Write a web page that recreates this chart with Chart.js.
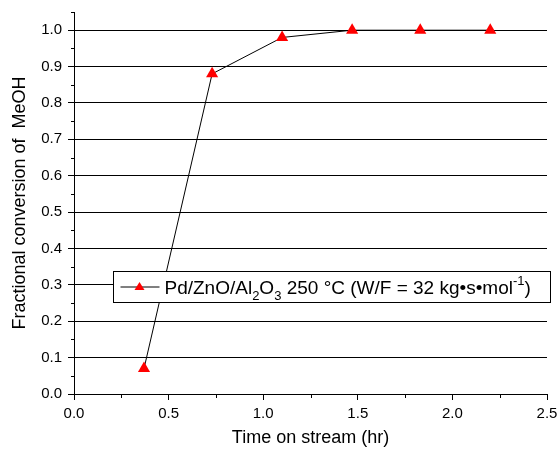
<!DOCTYPE html>
<html>
<head>
<meta charset="utf-8">
<script src="https://cdn.jsdelivr.net/npm/chart.js@4"></script>
<style>
  html, body { margin: 0; padding: 0; background: #fff; }
  #wrap { width: 558px; height: 450px; }
</style>
</head>
<body>
<div id="wrap"><canvas id="grafico"></canvas></div>
<script>
// datos
const tiempos = [0.37, 0.73, 1.10, 1.47, 1.83, 2.20];
const conversion = [0.07, 0.88, 0.98, 1.0, 1.0, 1.0];
const yMayores = [0, 0.1, 0.2, 0.3, 0.4, 0.5, 0.6, 0.7, 0.8, 0.9, 1.0];
const xMayores = [0, 0.5, 1.0, 1.5, 2.0, 2.5];

const fuente = "'Liberation Sans', Arial, sans-serif";

// ticks menores y leyenda dibujados a mano
const extras = {
    id: 'extras',
    afterDraw(chart) {
        const ctx = chart.ctx;
        const xs = chart.scales.x, ys = chart.scales.y;
        const area = chart.chartArea;
        ctx.save();
        ctx.strokeStyle = '#000';
        ctx.lineWidth = 1;
        ctx.beginPath();
        for (let v = 0.05; v < 1.05; v += 0.1) {
            const py = Math.round(ys.getPixelForValue(v)) + 0.5;
            ctx.moveTo(area.left - 3, py);
            ctx.lineTo(area.left, py);
        }
        for (let v = 0.25; v < 2.5; v += 0.5) {
            const px = Math.round(xs.getPixelForValue(v)) + 0.5;
            ctx.moveTo(px, area.bottom);
            ctx.lineTo(px, area.bottom + 4);
        }
        ctx.stroke();

        // caja de la leyenda
        const bx = area.left + 39.5, by = 271.5, bw = 437, bh = 31;
        ctx.fillStyle = '#fff';
        ctx.fillRect(bx, by, bw, bh);
        ctx.strokeRect(bx, by, bw, bh);
        const cy = by + bh / 2;
        ctx.beginPath();
        ctx.moveTo(bx + 7, cy);
        ctx.lineTo(bx + 46, cy);
        ctx.stroke();
        ctx.fillStyle = '#ff0000';
        ctx.beginPath();
        ctx.moveTo(bx + 26, cy - 5);
        ctx.lineTo(bx + 31, cy + 3);
        ctx.lineTo(bx + 21, cy + 3);
        ctx.closePath();
        ctx.fill();

        ctx.fillStyle = '#000';
        ctx.textBaseline = 'alphabetic';
        const base = cy + 7;
        let x = bx + 51;
        const partes = [
            ['Pd/ZnO/Al', 0, 19],
            ['2', 6, 13],
            ['O', 0, 19],
            ['3', 6, 13],
            [' 250 \u00B0C (W/F = 32 kg\u2022s\u2022mol', 0, 19],
            ['-1', -9, 13],
            [')', 0, 19]
        ];
        partes.forEach(p => {
            ctx.font = p[2] + 'px ' + fuente;
            ctx.fillText(p[0], x, base + p[1]);
            x += ctx.measureText(p[0]).width;
        });
        ctx.restore();
    }
};

const ctx = document.getElementById('grafico').getContext('2d');
new Chart(ctx, {
    type: 'scatter',
    data: {
        datasets: [{
            label: 'Pd/ZnO/Al2O3 250 °C',
            data: tiempos.map((t, i) => ({ x: t, y: conversion[i] })),
            showLine: true,
            borderColor: '#000',
            borderWidth: 1,
            pointStyle: 'triangle',
            pointRadius: 7,
            pointBackgroundColor: '#ff0000',
            pointBorderColor: '#ff0000',
            pointBorderWidth: 0,
            tension: 0
        }]
    },
    options: {
        responsive: true,
        maintainAspectRatio: false,
        animation: false,
        layout: { padding: { left: 0, top: 12, right: 11, bottom: 1 } },
        plugins: {
            legend: { display: false },
            tooltip: { enabled: false }
        },
        scales: {
            x: {
                type: 'linear',
                min: 0,
                max: 2.5,
                afterBuildTicks: s => { s.ticks = xMayores.map(v => ({ value: v })); },
                afterFit: s => {
                    s.height = 55;
                    s.paddingLeft = 0;
                    s.paddingRight = 0;
                },
                border: { display: true, color: '#000', width: 1 },
                grid: { drawOnChartArea: false, drawTicks: true, tickLength: 6, color: '#000' },
                ticks: {
                    color: '#000',
                    font: { family: fuente, size: 15 },
                    padding: 5,
                    maxRotation: 0,
                    callback: v => v.toFixed(1)
                },
                title: {
                    display: true,
                    text: 'Time on stream (hr)',
                    color: '#000',
                    font: { family: fuente, size: 18 },
                    padding: { top: 4, bottom: 0 }
                }
            },
            y: {
                type: 'linear',
                min: 0,
                max: 1.05,
                afterBuildTicks: s => { s.ticks = yMayores.map(v => ({ value: v })); },
                afterFit: s => {
                    s.width = 74;
                    s.paddingTop = 0;
                    s.paddingBottom = 0;
                },
                border: { display: true, color: '#000', width: 1 },
                grid: { drawOnChartArea: true, drawTicks: true, tickLength: 6, color: '#000' },
                ticks: {
                    color: '#000',
                    font: { family: fuente, size: 15 },
                    padding: 6,
                    callback: v => v.toFixed(1)
                },
                title: {
                    display: true,
                    text: 'Fractional conversion of  MeOH',
                    color: '#000',
                    font: { family: fuente, size: 18 },
                    padding: { top: 9, bottom: 0 }
                }
            }
        }
    },
    plugins: [extras]
});
</script>
</body>
</html>
